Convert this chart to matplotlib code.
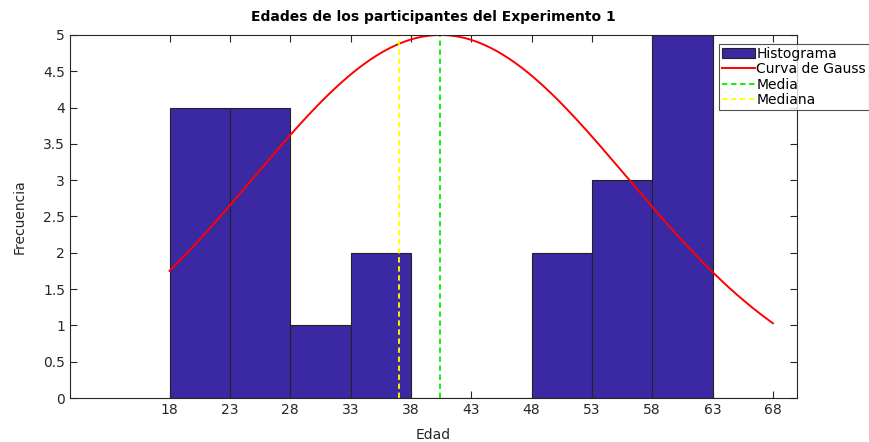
import numpy as np
import matplotlib
matplotlib.use("Agg")
from matplotlib import pyplot as plt

# histogram data
bin_edges = [18, 23, 28, 33, 38, 43, 48, 53, 58, 63, 68]
counts = [4, 4, 1, 2, 0, 0, 2, 3, 5, 0]

# gaussian fit params
media = 40.45
mediana = 37.05
desv = 15.5
pico = 5

xticks = [18, 23, 28, 33, 38, 43, 48, 53, 58, 63, 68]
yticks = [0, 0.5, 1, 1.5, 2, 2.5, 3, 3.5, 4, 4.5, 5]
yticklabels = ['0', '0.5', '1', '1.5', '2', '2.5', '3', '3.5', '4', '4.5', '5']

fig = plt.figure(figsize=(8.7, 4.42), dpi=100)
ax = fig.add_axes([70/870, 44/442, 727/870, 363/442])

widths = np.diff(bin_edges)
h1 = ax.bar(bin_edges[:-1], counts, width=widths, align='edge', color='#3b29a3',
            edgecolor='#222222', linewidth=0.8, label='Histograma')

xs = np.linspace(bin_edges[0], bin_edges[-1], 300)
ys = pico * np.exp(-(xs - media)**2 / (2 * desv**2))
h2, = ax.plot(xs, ys, color='red', lw=1.4, label='Curva de Gauss')
h3, = ax.plot([media, media], [0, pico], color='#00ee00', lw=1.3, ls=(0, (3, 2)), label='Media')
h4, = ax.plot([mediana, mediana], [0, pico], color='yellow', lw=1.3, ls=(0, (3, 2)), label='Mediana')

ax.set_xlim(9.75, 70)
ax.set_ylim(0, 5)
ax.set_xticks(xticks)
ax.set_yticks(yticks)
ax.set_yticklabels(yticklabels)
ax.tick_params(direction='in', top=True, right=True, labelsize=10, colors='#262626', length=5)
for s in ax.spines.values():
    s.set_color('#262626')
    s.set_linewidth(0.8)

ax.set_xlabel('Edad', fontsize=10, color='#262626', labelpad=8)
ax.set_ylabel('Frecuencia', fontsize=10, color='#262626', labelpad=12)
ax.set_title('Edades de los participantes del Experimento 1', fontsize=10, fontweight='bold', pad=10)

leg = fig.legend([h1, h2, h3, h4], ['Histograma', 'Curva de Gauss', 'Media', 'Mediana'],
                 loc='upper left', bbox_to_anchor=(719/870, 1 - 44/442), fontsize=10,
                 frameon=True, fancybox=False, edgecolor='#262626', handlelength=2.4,
                 handletextpad=0.1, borderpad=0.2, labelspacing=0.1, borderaxespad=0)
leg.get_frame().set_linewidth(0.8)

fig.savefig('out.png', dpi=100)
